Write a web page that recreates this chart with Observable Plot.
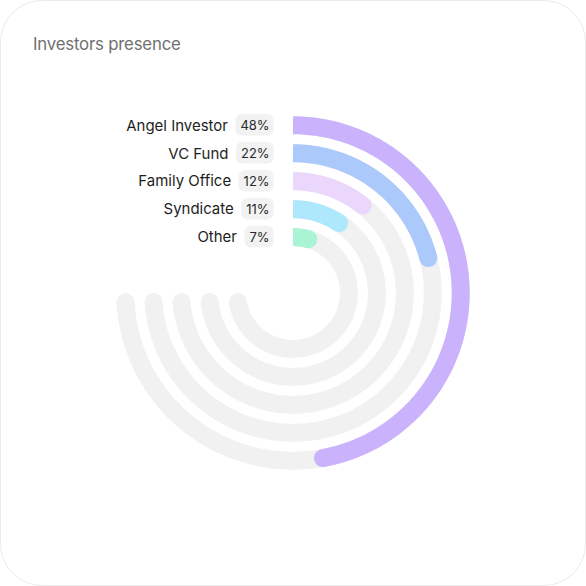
<!DOCTYPE html>
<html><head><meta charset="utf-8">
<script src="https://cdn.jsdelivr.net/npm/d3@7"></script>
<script src="https://cdn.jsdelivr.net/npm/@observablehq/plot@0.6"></script>
<style>
html,body{margin:0;padding:0;background:#fff;}
#card{position:relative;box-sizing:border-box;width:586px;height:586px;border:1px solid #ebebeb;border-radius:42px;overflow:hidden;font-family:Inter,"Noto Sans",sans-serif;background:#fff;}
#title{position:absolute;left:32px;top:33px;font-size:16.8px;color:#707070;letter-spacing:-0.2px;}
#chart{position:absolute;left:-1px;top:-1px;}
</style></head>
<body><div id="card"><div id="title">Investors presence</div><div id="chart"></div></div>
<script>
// ---- data ----
const categories = ["Angel Investor", "VC Fund", "Family Office", "Syndicate", "Other"];
const values = [48, 22, 12, 11, 7];
const valueLabels = ["48%", "22%", "12%", "11%", "7%"];
const colors = ["#cab3fc", "#abc9fb", "#ebd6fc", "#aee8fc", "#a9f4d4"];
const trackShare = 75; // background track spans 75% of a full turn

// ---- layout ----
const W = 586, H = 586, half = 293;
const outerR = 168, step = 28, barW = 18;
const radius = d3.scaleLinear().domain([0, 1]).range([outerR, outerR - step]);
const angle = d3.scaleLinear().domain([0, 100]).range([0, 360]); // percent -> degrees

function arcPoints(r, degEnd, key) {
  const pts = [];
  const n = Math.max(2, Math.ceil(degEnd));
  for (let k = 0; k <= n; k++) {
    const a = (degEnd * k / n) * Math.PI / 180;
    pts.push({x: r * Math.sin(a), y: -r * Math.cos(a), key});
  }
  return pts;
}

const tracks = [], bars = [], trackEnds = [], barEnds = [];
categories.forEach((c, i) => {
  const r = radius(i);
  const cap = (barW / 2) / r * 180 / Math.PI;
  const tEnd = angle(trackShare) - cap;
  const bEnd = angle(values[i]) - cap;
  const tp = arcPoints(r, tEnd, c);
  const bp = arcPoints(r, bEnd, c);
  tracks.push(...tp);
  bars.push(...bp.map(p => ({...p, color: colors[i]})));
  trackEnds.push(tp[tp.length - 1]);
  barEnds.push({...bp[bp.length - 1], color: colors[i]});
});

// label + badge geometry (measured text)
const ctx = document.createElement("canvas").getContext("2d");
function tw(s, font) { ctx.font = font; return ctx.measureText(s).width; }
const badgeRight = -19, badgePad = 4.5, badgeGap = 8, badgeH = 21.5;
const labels = categories.map((c, i) => {
  const y = -radius(i);
  const pw = tw(valueLabels[i], "13px Inter");
  const x1 = badgeRight - pw - 2 * badgePad;
  return {name: c, pct: valueLabels[i], y, x1, x2: badgeRight, px: badgeRight - badgePad, lx: x1 - badgeGap};
});

const chart = Plot.plot({
  width: W, height: H, margin: 0,
  x: {domain: [-half, half], range: [0, W], axis: null},
  y: {domain: [-half, half], range: [0, H], axis: null},
  style: {fontFamily: "Inter, 'Noto Sans', sans-serif", background: "transparent"},
  marks: [
    Plot.line(tracks, {x: "x", y: "y", z: "key", stroke: "#f1f1f1", strokeWidth: barW, strokeLinecap: "butt", curve: "linear"}),
    Plot.dot(trackEnds, {x: "x", y: "y", r: barW / 2, fill: "#f1f1f1", stroke: null}),
    Plot.line(bars, {x: "x", y: "y", z: "key", stroke: "color", strokeWidth: barW, strokeLinecap: "butt"}),
    Plot.dot(barEnds, {x: "x", y: "y", r: barW / 2, fill: "color", stroke: null}),
    Plot.rect(labels, {x1: "x1", x2: "x2", y1: d => d.y - badgeH / 2, y2: d => d.y + badgeH / 2, fill: "#f2f2f2", rx: 6}),
    Plot.text(labels, {x: "px", y: "y", text: "pct", textAnchor: "end", fontSize: 13, fill: "#2a2a2a", dy: 0.5}),
    Plot.text(labels, {x: "lx", y: "y", text: "name", textAnchor: "end", fontSize: 15, fill: "#1e1e1e", dy: 0.5, letterSpacing: "-0.25px"})
  ]
});
document.getElementById("chart").appendChild(chart);
</script>
</body></html>
